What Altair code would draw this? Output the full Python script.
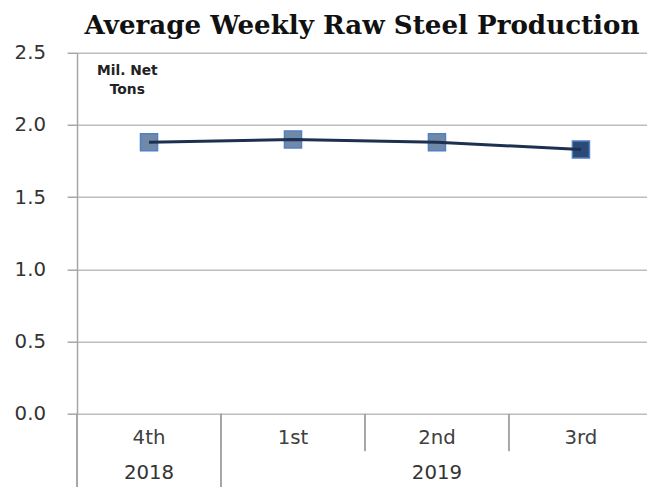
import altair as alt
import pandas as pd

quarters = ["4th", "1st", "2nd", "3rd"]
years = ["2018", "2019", "2019", "2019"]
values = [1.88, 1.90, 1.88, 1.83]
y_ticks = [0.0, 0.5, 1.0, 1.5, 2.0, 2.5]

df = pd.DataFrame({
    "quarter": quarters,
    "year": years,
    "value": values,
    "pos": [i + 0.5 for i in range(len(quarters))],
    "last": [i == len(quarters) - 1 for i in range(len(quarters))],
})

# year groups
yg = []
for y in dict.fromkeys(years):
    idx = [i for i, v in enumerate(years) if v == y]
    yg.append({"year": y, "center": (idx[0] + idx[-1] + 1) / 2, "start": idx[0]})
ydf = pd.DataFrame(yg)
sep_q = pd.DataFrame({"b": [i for i in range(1, len(quarters))]})
sep_y = pd.DataFrame({"b": [g["start"] for g in yg if g["start"] > 0]})

W, H = 578, 366
xs = alt.Scale(domain=[0, W / 146], nice=False, zero=False)
ys = alt.Scale(domain=[0, 2.5], nice=False)

base = alt.Chart(df)

points = base.mark_point(shape="square", size=300, filled=True, strokeWidth=1.5,
                         stroke="#4f81c4", opacity=1).encode(
    x=alt.X("pos:Q", scale=xs, axis=None),
    y=alt.Y("value:Q", scale=ys, axis=alt.Axis(values=y_ticks, format=".1f", title=None,
                                              grid=True, gridColor="#bdbdbd", gridWidth=1.5,
                                              domainColor="#a6a6a6", domainWidth=1.5,
                                              tickColor="#a6a6a6", tickSize=10, tickWidth=1.5,
                                              labelPadding=22, labelFont="DejaVu Sans",
                                              labelFontSize=20, labelColor="#333333")),
    fill=alt.condition("datum.last", alt.value("#2b4a75"), alt.value("#7089a9")),
)

line = base.mark_line(color="#1e3050", strokeWidth=3).encode(
    x=alt.X("pos:Q", scale=xs), y=alt.Y("value:Q", scale=ys))

qlabels = base.mark_text(font="DejaVu Sans", fontSize=20, color="#404040", baseline="middle").encode(
    x=alt.X("pos:Q", scale=xs), y=alt.value(H + 25), text="quarter:N")

ylabels = alt.Chart(ydf).mark_text(font="DejaVu Sans", fontSize=20, color="#333333", baseline="middle").encode(
    x=alt.X("center:Q", scale=xs), y=alt.value(H + 60), text="year:N")

qsep = alt.Chart(sep_q).mark_rule(color="#a6a6a6", strokeWidth=2).encode(
    x=alt.X("b:Q", scale=xs), y=alt.value(H), y2=alt.value(H + 38))

ysep = alt.Chart(sep_y).mark_rule(color="#a6a6a6", strokeWidth=2).encode(
    x=alt.X("b:Q", scale=xs), y=alt.value(H), y2=alt.value(H + 76))

yext = alt.Chart(ydf.head(1)).mark_rule(color="#a6a6a6", strokeWidth=2).encode(
    x=alt.value(0), y=alt.value(H), y2=alt.value(H + 76))

unit = alt.Chart(pd.DataFrame({"t": [["Mil. Net", "Tons"]]})).mark_text(
    font="DejaVu Sans", fontSize=14, fontWeight="bold", color="#222222", align="center",
    baseline="middle", lineHeight=19).encode(
    x=alt.value(51), y=alt.value(19), text="t")

chart = alt.layer(points, line, qlabels, ylabels, qsep, ysep, yext, unit).properties(
    width=W, height=H,
    padding={"left": 6, "top": 1, "right": 0, "bottom": 0},
    title=alt.TitleParams("Average Weekly Raw Steel Production", font="DejaVu Serif",
                          fontSize=26.5, fontWeight="bold", color="#111111", offset=4,
                          anchor="middle"),
).configure_view(stroke=None)

chart.save("out.html", embed_options={"renderer": "svg", "actions": False})
